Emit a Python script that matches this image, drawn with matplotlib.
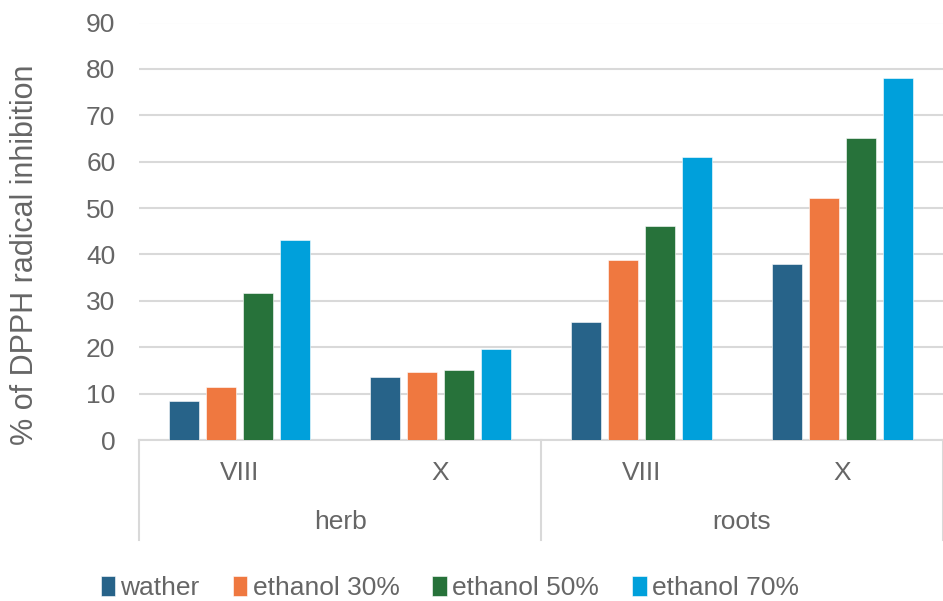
import matplotlib
matplotlib.use("Agg")
import matplotlib.pyplot as plt
import numpy as np

categories = ["VIII", "X", "VIII", "X"]
groups = ["herb", "roots"]
series_names = ["wather", "ethanol 30%", "ethanol 50%", "ethanol 70%"]
wather = [8.3, 13.6, 25.4, 38.0]
ethanol30 = [11.5, 14.6, 38.8, 52.2]
ethanol50 = [31.6, 15.0, 46.1, 65.0]
ethanol70 = [43.2, 19.7, 61.1, 78.0]
colors = ["#276389", "#ef7840", "#27723a", "#00a0db"]

plt.rcParams["font.family"] = ["Liberation Sans", "DejaVu Sans"]
txt = "#666666"
fs = 19

fig = plt.figure(figsize=(9.43, 6.01), dpi=100)
ax = fig.add_axes([139/943, 1-440/601, 1-139/943, (440-22.5)/601])

x = np.arange(len(categories))
step = 0.184
width = 0.149
series = [wather, ethanol30, ethanol50, ethanol70]
for i, (vals, name, c) in enumerate(zip(series, series_names, colors)):
    ax.bar(x + (i-1.5)*step, vals, width, color=c, label=name, zorder=3,
           edgecolor="white", linewidth=0.4)

ax.set_xlim(-0.5, 3.5)
ax.set_ylim(0, 90)
ax.set_yticks(range(0, 91, 10))
ax.yaxis.grid(True, color="#d9d9d9", linewidth=1.5, zorder=0)
ax.set_axisbelow(True)
for s in ["top", "right", "left"]:
    ax.spines[s].set_visible(False)
ax.spines["bottom"].set_color("#d9d9d9")
ax.spines["bottom"].set_linewidth(1.5)
ax.tick_params(axis="y", length=0, pad=17, labelsize=fs, labelcolor=txt)
ax.set_xticks(x)
ax.set_xticklabels(categories, fontsize=fs, color=txt)
ax.tick_params(axis="x", length=0, pad=15)

fig.text(25/943, 1-255/601, "% of DPPH radical inhibition", rotation=90,
         ha="center", va="center", fontsize=22, color=txt)

trans = ax.get_xaxis_transform()
axh = 440 - 22.5
for xp in [-0.5, 1.5, 3.5]:
    ax.plot([xp, xp], [0, -100/axh], transform=trans, color="#d9d9d9",
            linewidth=1.5, clip_on=False)
for gi, g in enumerate(groups):
    ax.text(gi*2 + 0.5, -(522-440)/axh, g, transform=trans, ha="center",
            va="center", fontsize=fs, color=txt)

leg = fig.legend(loc="center", bbox_to_anchor=(0.477, 1-588/601), ncol=4,
                 frameon=False, fontsize=fs, handlelength=0.55, handleheight=0.8,
                 handletextpad=0.2, columnspacing=1.25)
for t in leg.get_texts():
    t.set_color(txt)

fig.savefig("out.png", dpi=100)
